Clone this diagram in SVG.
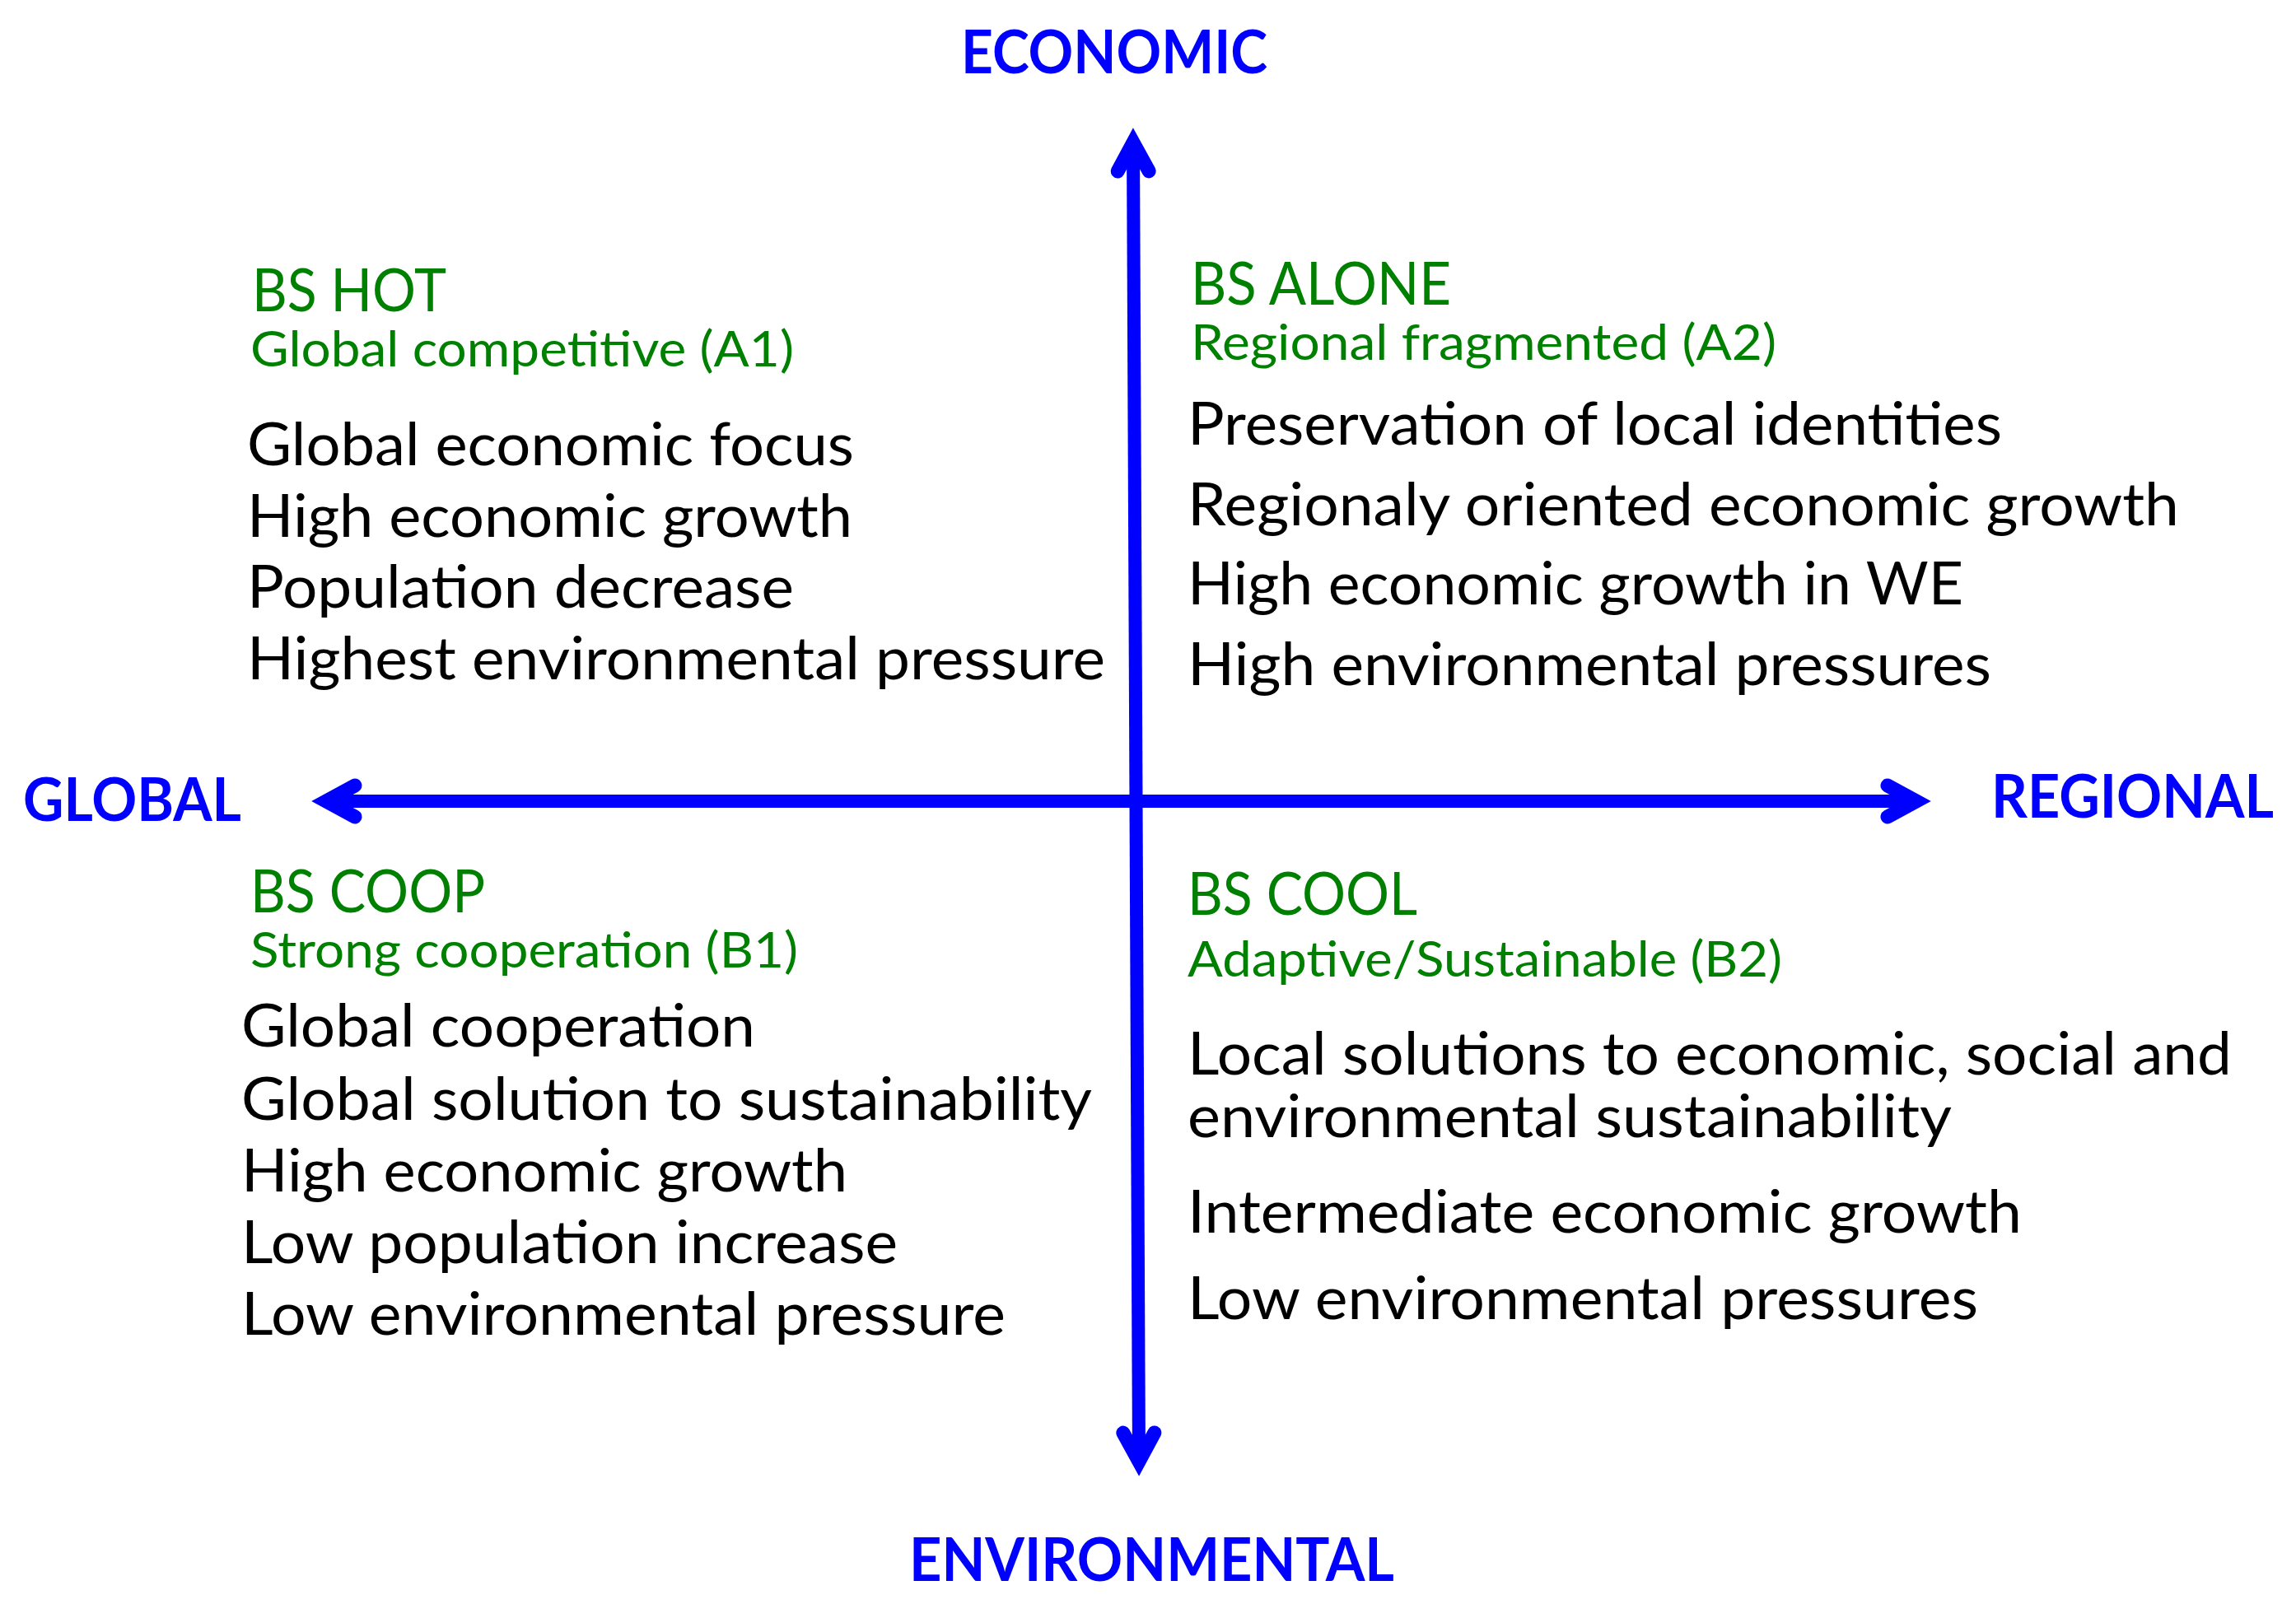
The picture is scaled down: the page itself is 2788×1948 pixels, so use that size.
<svg xmlns="http://www.w3.org/2000/svg" width="2788" height="1948" viewBox="0 0 2788 1948">
<style>
text{font-family:Lato,"Open Sans","Liberation Sans",sans-serif}
.ax{font-size:73px;font-weight:bold;fill:#0000FF}
.ti{font-size:72px;fill:#008000}
.su{font-size:60px;fill:#008000}
.bd{font-size:72px;fill:#000000}
.axis{stroke:#0000FF;stroke-width:16;fill:none}
.head{stroke:#0000FF;stroke-width:17;fill:none;stroke-linejoin:miter;stroke-miterlimit:10;stroke-linecap:round}
</style>
<defs>
<marker id="arr" markerUnits="userSpaceOnUse" orient="auto-start-reverse" refX="0" refY="0" markerWidth="90" markerHeight="90" overflow="visible">
<path class="head" d="M-35,-19 L0,0 L-35,19"/>
</marker>
</defs>
<rect width="2788" height="1948" fill="#FFFFFF"/>
<g id="connectors">
<line class="axis" x1="1383" y1="1775" x2="1376" y2="173" marker-start="url(#arr)" marker-end="url(#arr)"/>
<line class="axis" x1="396" y1="973" x2="2327" y2="973" marker-start="url(#arr)" marker-end="url(#arr)"/>
</g>
<g id="axis-economic"><text class="ax" x="1167" y="89" textLength="372" lengthAdjust="spacingAndGlyphs">ECONOMIC</text></g>
<g id="axis-global"><text class="ax" x="28" y="997" textLength="265" lengthAdjust="spacingAndGlyphs">GLOBAL</text></g>
<g id="axis-regional"><text class="ax" x="2418" y="993" textLength="343" lengthAdjust="spacingAndGlyphs">REGIONAL</text></g>
<g id="axis-environmental"><text class="ax" x="1104" y="1920" textLength="589" lengthAdjust="spacingAndGlyphs">ENVIRONMENTAL</text></g>
<g id="bs-hot">
<text class="ti" x="306" y="378" textLength="236" lengthAdjust="spacingAndGlyphs">BS HOT</text>
<text class="su" x="304" y="445" textLength="660" lengthAdjust="spacingAndGlyphs">Global competitive (A1)</text>
<text class="bd" x="300" y="565" textLength="737" lengthAdjust="spacingAndGlyphs">Global economic focus</text>
<text class="bd" x="300" y="652" textLength="735" lengthAdjust="spacingAndGlyphs">High economic growth</text>
<text class="bd" x="300" y="738" textLength="664" lengthAdjust="spacingAndGlyphs">Population decrease</text>
<text class="bd" x="300" y="825" textLength="1042" lengthAdjust="spacingAndGlyphs">Highest environmental pressure</text>
</g>
<g id="bs-alone">
<text class="ti" x="1446" y="370" textLength="316" lengthAdjust="spacingAndGlyphs">BS ALONE</text>
<text class="su" x="1446" y="437" textLength="711" lengthAdjust="spacingAndGlyphs">Regional fragmented (A2)</text>
<text class="bd" x="1442" y="540" textLength="989" lengthAdjust="spacingAndGlyphs">Preservation of local identities</text>
<text class="bd" x="1442" y="638" textLength="1204" lengthAdjust="spacingAndGlyphs">Regionaly oriented economic growth</text>
<text class="bd" x="1442" y="734" textLength="942" lengthAdjust="spacingAndGlyphs">High economic growth in WE</text>
<text class="bd" x="1442" y="832" textLength="976" lengthAdjust="spacingAndGlyphs">High environmental pressures</text>
</g>
<g id="bs-coop">
<text class="ti" x="304" y="1108" textLength="285" lengthAdjust="spacingAndGlyphs">BS COOP</text>
<text class="su" x="304" y="1175" textLength="665" lengthAdjust="spacingAndGlyphs">Strong cooperation (B1)</text>
<text class="bd" x="293" y="1271" textLength="624" lengthAdjust="spacingAndGlyphs">Global cooperation</text>
<text class="bd" x="293" y="1360" textLength="1033" lengthAdjust="spacingAndGlyphs">Global solution to sustainability</text>
<text class="bd" x="293" y="1447" textLength="736" lengthAdjust="spacingAndGlyphs">High economic growth</text>
<text class="bd" x="293" y="1534" textLength="797" lengthAdjust="spacingAndGlyphs">Low population increase</text>
<text class="bd" x="293" y="1621" textLength="928" lengthAdjust="spacingAndGlyphs">Low environmental pressure</text>
</g>
<g id="bs-cool">
<text class="ti" x="1442" y="1111" textLength="279" lengthAdjust="spacingAndGlyphs">BS COOL</text>
<text class="su" x="1442" y="1186" textLength="722" lengthAdjust="spacingAndGlyphs">Adaptive/Sustainable (B2)</text>
<text class="bd" x="1442" y="1305" textLength="1268" lengthAdjust="spacingAndGlyphs">Local solutions to economic, social and</text>
<text class="bd" x="1442" y="1381" textLength="928" lengthAdjust="spacingAndGlyphs">environmental sustainability</text>
<text class="bd" x="1442" y="1497" textLength="1013" lengthAdjust="spacingAndGlyphs">Intermediate economic growth</text>
<text class="bd" x="1442" y="1602" textLength="960" lengthAdjust="spacingAndGlyphs">Low environmental pressures</text>
</g>
</svg>
